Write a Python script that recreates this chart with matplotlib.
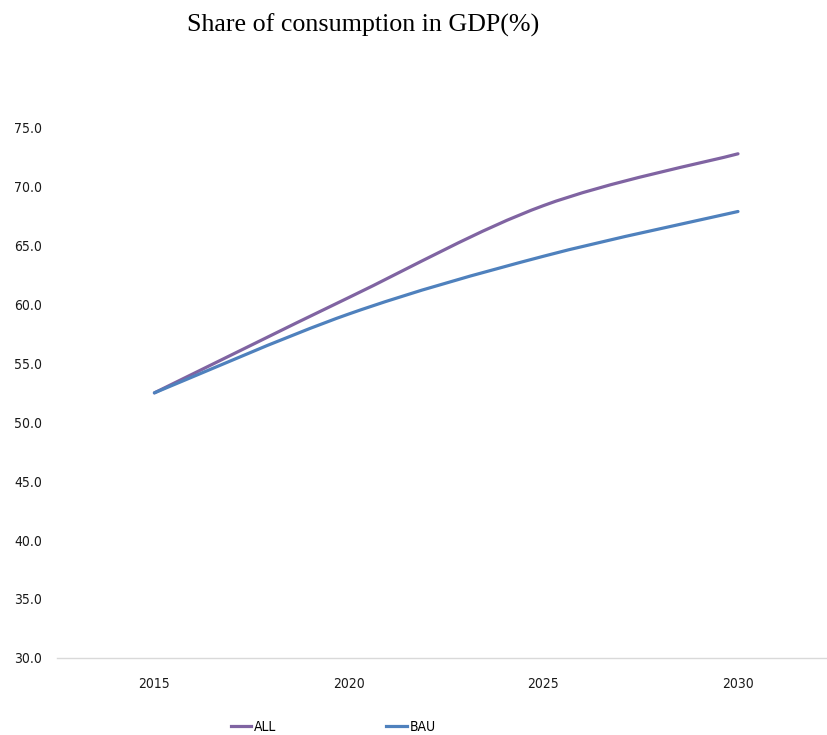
import matplotlib
matplotlib.use("Agg")
import matplotlib.pyplot as plt
from matplotlib.path import Path
from matplotlib.patches import PathPatch
from matplotlib.lines import Line2D
import numpy as np

years = ["2015", "2020", "2025", "2030"]
all_share = [52.5, 60.6, 68.4, 72.8]
bau_share = [52.5, 59.2, 64.1, 67.9]
yticks = [30, 35, 40, 45, 50, 55, 60, 65, 70, 75]

purple = "#8064A2"
blue = "#4F81BD"
tick_font = {"family": "DejaVu Sans", "stretch": "condensed", "size": 10}


def smooth_path(x, y):
    # excel-style smoothed line: cubic bezier through every point
    pts = np.column_stack([x, y]).astype(float)
    n = len(pts)
    verts = [pts[0]]
    codes = [Path.MOVETO]
    for i in range(n - 1):
        p_prev = pts[max(i - 1, 0)]
        p0 = pts[i]
        p1 = pts[i + 1]
        p_next = pts[min(i + 2, n - 1)]
        c1 = p0 + (p1 - p_prev) / 6.0
        c2 = p1 - (p_next - p0) / 6.0
        verts += [c1, c2, p1]
        codes += [Path.CURVE4] * 3
    return Path(verts, codes)


fig = plt.figure(figsize=(8.28, 7.35), dpi=100)
ax = fig.add_axes([0.069, 0.105, 0.928, 0.721])

xs = np.arange(len(years))
for vals, col in [(all_share, purple), (bau_share, blue)]:
    patch = PathPatch(smooth_path(xs, vals), fill=False, edgecolor=col,
                      linewidth=2.3, capstyle="round", joinstyle="round")
    ax.add_patch(patch)

ax.set_xlim(-0.5, 3.45)
ax.set_ylim(30, 75)
ax.set_xticks(xs)
ax.set_xticklabels(years, fontdict=tick_font)
ax.set_yticks(yticks)
ax.set_yticklabels(["%.1f" % v for v in yticks], fontdict=tick_font)
ax.tick_params(axis="both", length=0, labelcolor="#1a1a1a")
ax.tick_params(axis="y", pad=11)
ax.tick_params(axis="x", pad=14)

for side in ["left", "right", "top"]:
    ax.spines[side].set_visible(False)
ax.spines["bottom"].set_color("#D9D9D9")
ax.spines["bottom"].set_linewidth(1.0)

fig.text(0.439, 0.966, "Share of consumption in GDP(%)", ha="center", va="center",
         fontfamily=["Liberation Serif", "DejaVu Serif"], fontsize=18.7)

handles = [Line2D([], [], color=purple, linewidth=2.3),
           Line2D([], [], color=blue, linewidth=2.3)]
fig.legend(handles, ["ALL", "BAU"], loc="center left",
           bbox_to_anchor=(0.27, 0.011), ncol=2, frameon=False,
           borderpad=0, handlelength=1.5, handletextpad=0.2,
           columnspacing=7.9, prop=tick_font)

fig.savefig("out.png", dpi=100)
